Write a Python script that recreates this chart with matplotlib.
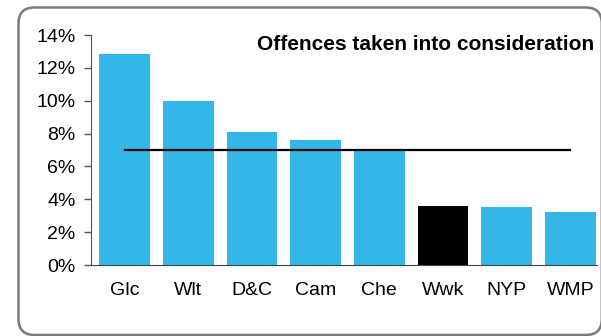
import numpy as np
import matplotlib.pyplot as plt
from matplotlib.patches import FancyBboxPatch
from matplotlib.transforms import IdentityTransform

# chart data
forces = ["Glc", "Wlt", "D&C", "Cam", "Che", "Wwk", "NYP", "WMP"]
tic_pct = [12.85, 10.0, 8.1, 7.6, 7.05, 3.6, 3.55, 3.25]
national_avg = 7.0
highlight = "Wwk"
yticks = [0, 2, 4, 6, 8, 10, 12, 14]

plt.rcParams['font.family'] = ['Liberation Sans', 'DejaVu Sans']

W, H = 601, 336
fig = plt.figure(figsize=(W / 100, H / 100), dpi=100)

# rounded outer frame (pixel coordinates, origin bottom-left)
frame = FancyBboxPatch((18.5, 1.0), 601.8 - 18.5, (H - 7.5) - 1.0,
                       boxstyle="round,pad=0,rounding_size=16",
                       transform=IdentityTransform(), facecolor="none",
                       edgecolor="#7a7a7a", linewidth=1.8, zorder=0)
fig.patches.append(frame)

ax = fig.add_axes([91 / W, (H - 265) / H, (597 - 91) / W, (265 - 35) / H])
ax.patch.set_alpha(0)

x = np.arange(len(forces))
colors = ["black" if f == highlight else "#33B7E8" for f in forces]
ax.bar(x, tic_pct, width=0.8, color=colors, zorder=2)
ax.plot([x[0], x[-1]], [national_avg, national_avg], color="black", linewidth=1.6, zorder=3)

ax.set_xlim(-0.53, len(forces) - 0.58)
ax.set_ylim(0, 14)
ax.set_yticks(yticks)
ax.set_yticklabels([f"{v}%" for v in yticks], fontsize=14)
ax.set_xticks(x)
ax.set_xticklabels(forces, fontsize=14)
ax.tick_params(axis="x", length=0, pad=12)
ax.tick_params(axis="y", length=5, width=1, color="#555555", pad=6)

for s in ["top", "right"]:
    ax.spines[s].set_visible(False)
ax.spines["left"].set_color("#555555")
ax.spines["bottom"].set_color("#444444")
ax.spines["bottom"].set_zorder(4)

ax.text(594 / W, (H - 44) / H, "Offences taken into consideration", transform=fig.transFigure,
        ha="right", va="center", fontsize=15, fontweight="bold")

fig.savefig("out.png", dpi=100)
